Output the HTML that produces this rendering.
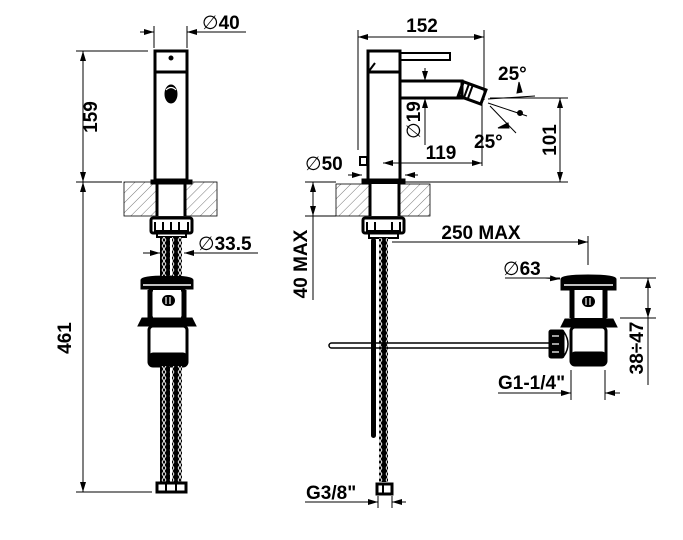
<!DOCTYPE html>
<html><head><meta charset="utf-8"><style>
html,body{margin:0;padding:0;background:#fff;}
svg{display:block;}
text{font-family:"Liberation Sans",Arial,sans-serif;font-weight:bold;fill:#000;}
.d{font-weight:normal;font-family:"DejaVu Sans",sans-serif;}
</style></head><body>
<svg width="683" height="540" viewBox="0 0 683 540" xmlns="http://www.w3.org/2000/svg">
<defs>
<marker id="a" viewBox="0 0 10 6" refX="10" refY="3" markerWidth="10" markerHeight="6" markerUnits="userSpaceOnUse" orient="auto-start-reverse"><path d="M0,0 L10,3 L0,6 z" fill="#000"/></marker>
<pattern id="h" width="7" height="7" patternUnits="userSpaceOnUse" patternTransform="rotate(45)"><line x1="0" y1="0" x2="0" y2="7" stroke="#555" stroke-width="0.8"/></pattern>
<pattern id="br" width="8" height="6" patternUnits="userSpaceOnUse"><rect width="8" height="6" fill="#000"/><path d="M2,0 L4,3 L2,6 M6,0 L4,3 L6,6" stroke="#fff" stroke-width="0.9" fill="none"/></pattern>
</defs>
<g stroke="#000" fill="none" stroke-width="1">
<!-- LEFT VIEW dims -->
<line x1="140" y1="32" x2="154" y2="32" marker-end="url(#a)"/>
<line x1="204" y1="32" x2="187" y2="32" marker-end="url(#a)"/>
<line x1="154" y1="26" x2="154" y2="48"/><line x1="187" y1="26" x2="187" y2="48"/>
<line x1="204" y1="32" x2="246" y2="32"/>
<line x1="76" y1="51" x2="148" y2="51"/><line x1="76" y1="182" x2="122" y2="182"/>
<line x1="83" y1="51" x2="83" y2="182" marker-start="url(#a)" marker-end="url(#a)"/>
<line x1="83" y1="182" x2="83" y2="492" marker-start="url(#a)" marker-end="url(#a)"/>
<line x1="76" y1="492" x2="152" y2="492"/>
<line x1="143" y1="253" x2="160" y2="253" marker-end="url(#a)"/>
<line x1="200" y1="253" x2="184" y2="253" marker-end="url(#a)"/>
<line x1="200" y1="253" x2="258" y2="253"/>
<!-- left body -->
<rect x="155" y="51" width="32" height="129" stroke-width="3"/>
<line x1="155" y1="72" x2="187" y2="72" stroke-width="3"/>
<circle cx="171" cy="58" r="2" fill="#000"/>
<ellipse cx="171" cy="94" rx="6" ry="9" fill="#000"/>
<path d="M166,90 q5,-5 10,0" stroke="#fff" stroke-width="1.2"/>
<rect x="124" y="182" width="93" height="34" fill="url(#h)" stroke-width="0.8"/>
<rect x="157" y="183" width="28" height="33" fill="#fff" stroke="none"/>
<line x1="157" y1="183" x2="157" y2="216" stroke-width="3"/><line x1="185" y1="183" x2="185" y2="216" stroke-width="3"/>
<rect x="151" y="180" width="41" height="4" fill="#000"/>
<rect x="151" y="218" width="41" height="15" rx="2" stroke-width="3"/>
<path d="M155,222 v9 h33 v-9 M163,222 v9 M171,222 v9 M179,222 v9" stroke-width="2"/>
<rect x="157" y="233" width="29" height="4" stroke-width="2"/>
<!-- waste left -->
<path d="M141,280 q0,-4 26,-4 q26,0 26,4 v9 h-52 z" fill="#000" stroke-width="1"/>
<line x1="143" y1="285" x2="191" y2="285" stroke="#fff" stroke-width="1.5"/>
<rect x="150" y="290" width="34" height="28" stroke-width="3"/>
<rect x="153" y="290" width="28" height="28" stroke="none" fill="#fff"/>
<path d="M150,290 v28 M184,290 v28" stroke-width="5"/>
<rect x="162" y="295" width="13" height="11" rx="5.5" fill="#000" stroke="none"/>
<path d="M166,297 v7 M170,297 v7" stroke="#fff" stroke-width="1.2"/>
<path d="M138,326 l4,-8 h50 l4,8 z" fill="#000"/>
<rect x="149" y="326" width="38" height="40" rx="4" stroke-width="3"/>
<rect x="149" y="353" width="38" height="13" rx="4" fill="#000"/>
<!-- hoses left -->
<rect x="160" y="237" width="10" height="39" fill="url(#br)" stroke="none"/>
<rect x="172" y="237" width="10" height="39" fill="url(#br)" stroke="none"/>
<rect x="160" y="366" width="10" height="116" fill="url(#br)" stroke="none"/>
<rect x="172" y="366" width="10" height="116" fill="url(#br)" stroke="none"/>
<rect x="157" y="483" width="29" height="9" stroke-width="3"/>
<path d="M166,483 v9 M176,483 v9" stroke-width="2"/>

<!-- RIGHT VIEW dims -->
<line x1="358" y1="30" x2="358" y2="150"/><line x1="484" y1="30" x2="484" y2="100"/>
<line x1="358" y1="37" x2="484" y2="37" marker-start="url(#a)" marker-end="url(#a)"/>
<line x1="425" y1="68" x2="425" y2="81" marker-end="url(#a)"/>
<line x1="425" y1="98" x2="425" y2="145"/>
<line x1="425" y1="110" x2="425" y2="98" marker-end="url(#a)"/>
<line x1="383" y1="163" x2="482" y2="163" marker-start="url(#a)" marker-end="url(#a)"/>
<line x1="482" y1="103" x2="482" y2="166"/>
<line x1="490" y1="98" x2="568" y2="98"/><line x1="400" y1="182" x2="568" y2="182"/>
<line x1="560" y1="98" x2="560" y2="182" marker-start="url(#a)" marker-end="url(#a)"/>
<line x1="348" y1="175" x2="362" y2="175" marker-end="url(#a)"/>
<line x1="418" y1="175" x2="405" y2="175" marker-end="url(#a)"/>
<line x1="305" y1="182" x2="336" y2="182"/><line x1="305" y1="216" x2="336" y2="216"/>
<line x1="313" y1="182" x2="313" y2="216" marker-start="url(#a)" marker-end="url(#a)"/>
<line x1="313" y1="216" x2="313" y2="300"/>
<!-- angles -->
<line x1="488" y1="99" x2="535" y2="96"/>
<line x1="488" y1="103" x2="527" y2="116"/>
<line x1="490" y1="106" x2="516" y2="133"/>
<circle cx="520" cy="113" r="2.5" fill="#000"/>
<path d="M519,82 l3,10 l-5,1 z" fill="#000"/>
<path d="M498,128 l10,-5 l1,5 z" fill="#000"/>
<!-- right body -->
<path d="M368,51 h32 v21 h-32 v-9 z" stroke-width="3"/>
<path d="M369,71 l6,-8" stroke-width="2"/>
<rect x="400" y="53" width="50" height="7" stroke-width="2"/>
<rect x="368" y="72" width="32" height="108" stroke-width="3"/>
<rect x="400" y="81" width="62" height="17" stroke-width="3"/>
<g transform="rotate(20 471 93)"><rect x="460" y="85" width="24" height="15" stroke-width="3"/><line x1="466" y1="85" x2="466" y2="100" stroke-width="2"/><line x1="470" y1="85" x2="470" y2="100" stroke-width="2"/></g>
<rect x="360" y="157" width="7" height="8" stroke-width="2"/>
<rect x="362" y="179" width="43" height="5" fill="#000"/>
<rect x="336" y="184" width="94" height="32" fill="url(#h)" stroke-width="0.8"/>
<rect x="370" y="184" width="29" height="32" fill="#fff" stroke="none"/>
<line x1="370" y1="184" x2="370" y2="216" stroke-width="3"/><line x1="399" y1="184" x2="399" y2="216" stroke-width="3"/>
<rect x="363" y="218" width="41" height="15" rx="2" stroke-width="3"/>
<path d="M367,222 v9 h33 v-9 M375,222 v9 M392,222 v9" stroke-width="2"/>
<rect x="369" y="233" width="29" height="5" stroke-width="2"/>
<!-- hoses right -->
<rect x="371" y="238" width="5" height="200" rx="2.5" fill="#000" stroke="none"/>
<rect x="379" y="238" width="9" height="244" fill="url(#br)" stroke="none"/>
<rect x="377" y="484" width="15" height="10" stroke-width="3"/>
<line x1="383" y1="484" x2="383" y2="494" stroke-width="2"/>
<line x1="305" y1="502" x2="378" y2="502"/>
<line x1="364" y1="502" x2="378" y2="502" marker-end="url(#a)"/>
<line x1="406" y1="502" x2="392" y2="502" marker-end="url(#a)"/>
<line x1="378" y1="496" x2="378" y2="508"/><line x1="392" y1="496" x2="392" y2="508"/>
<!-- rod -->
<rect x="329" y="343" width="222" height="5" rx="2.5" stroke-width="1.5"/>
<!-- 250 MAX -->
<line x1="392" y1="242" x2="588" y2="242" marker-end="url(#a)"/>
<line x1="588" y1="236" x2="588" y2="265"/>
<!-- Ø63 -->
<line x1="505" y1="278" x2="560" y2="278"/>
<line x1="545" y1="278" x2="560" y2="279" marker-end="url(#a)"/>
<!-- waste right -->
<path d="M561,279 q0,-4 27,-4 q28,0 28,4 v11 h-55 z" fill="#000"/>
<line x1="564" y1="285" x2="613" y2="285" stroke="#fff" stroke-width="1.5"/>
<rect x="572" y="290" width="33" height="28" stroke-width="3"/>
<rect x="574" y="290" width="29" height="28" stroke="none" fill="#fff"/>
<path d="M572,290 v28 M605,290 v28" stroke-width="5"/>
<rect x="582" y="296" width="13" height="11" rx="5.5" fill="#000" stroke="none"/>
<path d="M586,298 v7 M590,298 v7" stroke="#fff" stroke-width="1.2"/>
<path d="M561,327 l4,-8 h48 l4,8 z" fill="#000"/>
<rect x="571" y="327" width="35" height="38" rx="4" stroke-width="3"/>
<rect x="571" y="352" width="35" height="13" rx="4" fill="#000"/>
<rect x="549" y="330" width="15" height="28" rx="2" fill="#000"/>
<path d="M552,336 h7 M552,344 h7 M552,352 h7" stroke="#fff" stroke-width="1.2"/>
<path d="M564,332 q8,12 0,24" stroke-width="1.5"/>
<!-- 38÷47 -->
<line x1="620" y1="278" x2="656" y2="278"/><line x1="620" y1="318" x2="656" y2="318"/>
<line x1="648" y1="278" x2="648" y2="318" marker-start="url(#a)" marker-end="url(#a)"/>
<line x1="648" y1="318" x2="648" y2="385"/>
<!-- G1-1/4 -->
<line x1="571" y1="370" x2="571" y2="400"/><line x1="605" y1="370" x2="605" y2="400"/>
<line x1="498" y1="393" x2="571" y2="393"/>
<line x1="557" y1="393" x2="571" y2="393" marker-end="url(#a)"/>
<line x1="620" y1="393" x2="605" y2="393" marker-end="url(#a)"/>
</g>
<g font-size="19">
<text x="202" y="29"><tspan class="d">∅</tspan>40</text>
<text x="198" y="250"><tspan class="d">∅</tspan>33.5</text>
<text x="97" y="117" transform="rotate(-90 97 117)" text-anchor="middle">159</text>
<text x="71" y="338" transform="rotate(-90 71 338)" text-anchor="middle">461</text>
<text x="422" y="32" text-anchor="middle">152</text>
<text x="498" y="80">25°</text>
<text x="474" y="148">25°</text>
<text x="420" y="120" transform="rotate(-90 420 120)" text-anchor="middle"><tspan class="d">∅</tspan>19</text>
<text x="441" y="159" text-anchor="middle">119</text>
<text x="556" y="140" transform="rotate(-90 556 140)" text-anchor="middle">101</text>
<text x="305" y="170"><tspan class="d">∅</tspan>50</text>
<text x="307" y="264" transform="rotate(-90 307 264)" text-anchor="middle">40 MAX</text>
<text x="481" y="239" text-anchor="middle">250 MAX</text>
<text x="503" y="275"><tspan class="d">∅</tspan>63</text>
<text x="643" y="348" transform="rotate(-90 643 348)" text-anchor="middle">38÷47</text>
<text x="498" y="389">G1-1/4"</text>
<text x="306" y="499">G3/8"</text>
</g>
</svg>
</body></html>
